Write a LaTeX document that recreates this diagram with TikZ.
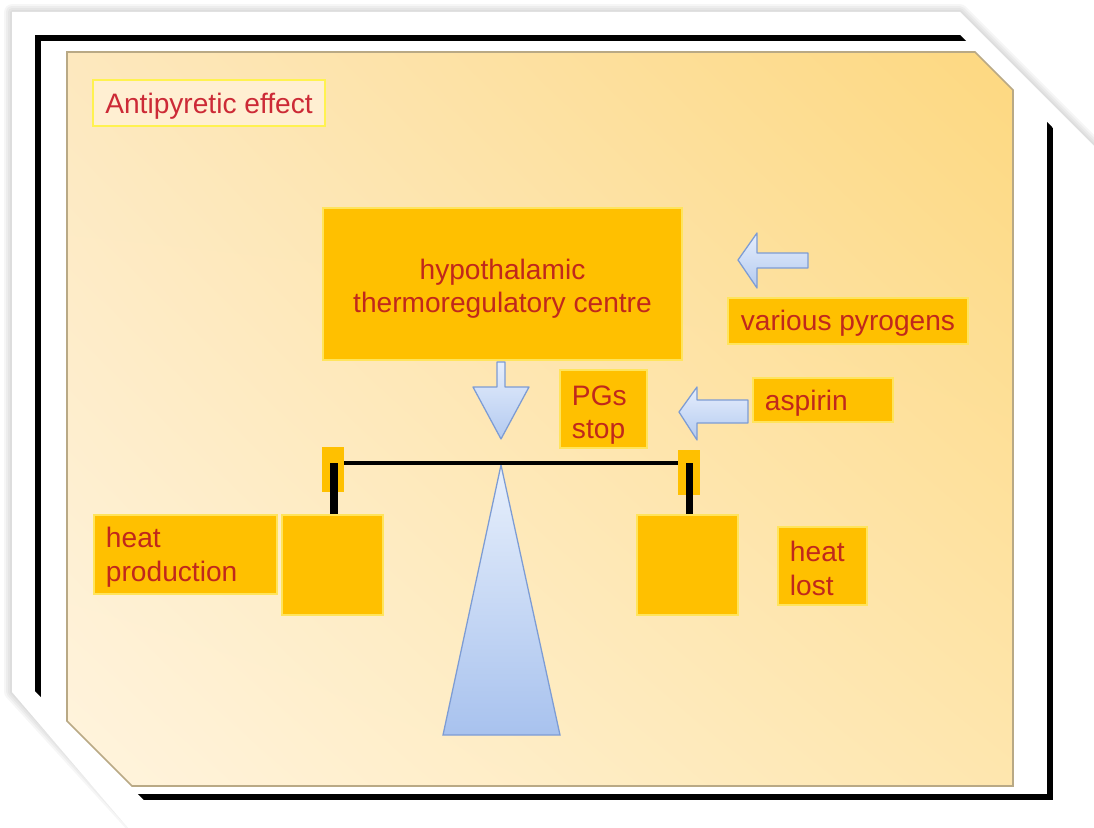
\documentclass[tikz,border=0pt]{standalone}
\usepackage{fontspec}
\setmainfont{Liberation Sans}
\usetikzlibrary{shadings}
\definecolor{boxfill}{HTML}{FFC000}
\definecolor{boxedge}{HTML}{FFE45C}
\definecolor{txtred}{HTML}{C0281C}
\definecolor{titlered}{HTML}{CC2A36}
\definecolor{titleedge}{HTML}{FFF250}
\definecolor{titlefill}{HTML}{FFEFD2}
\definecolor{arrowedge}{HTML}{7D9CD4}
\definecolor{arrowtop}{HTML}{E6EEFC}
\definecolor{arrowbot}{HTML}{B3CAF0}
\definecolor{fulcrumtop}{HTML}{E8F0FC}
\definecolor{fulcrumbot}{HTML}{A8C2EE}
\definecolor{panelUL}{HTML}{FDE8BE}
\definecolor{panelUR}{HTML}{FDD880}
\definecolor{panelLL}{HTML}{FFF4DE}
\definecolor{panelLR}{HTML}{FEE6AE}
\definecolor{paneledge}{HTML}{B9A985}
\begin{document}
\begin{tikzpicture}[x=0.025cm,y=-0.025cm,
  every node/.style={font=\fontsize{20}{23.5}\selectfont},
  % raises the first line's height so the text sits a little lower in its box
  lowered/.style={execute at begin node={\rule{0pt}{#1}}},
  orangebox/.style={draw=boxedge, fill=boxfill, line width=1.4pt, text=txtred, inner sep=0pt},
  leftbox/.style={orangebox, align=left, inner xsep=0.3cm, inner ysep=0pt},
  tabbox/.style={fill=boxfill, inner sep=0pt, minimum width=0.55cm, minimum height=1.125cm},
  blockarrow/.style={draw=arrowedge, line width=0.9pt, top color=arrowtop, bottom color=arrowbot, line join=round},
  bar/.style={black, line width=3.5pt},
  post/.style={black, line width=5pt},
]
\useasboundingbox (0,0) rectangle (1094,828);

% soft shadow round the white card
\foreach \w in {16,12,8,4}
  \draw[black, opacity=0.035, line width=\w*0.7pt, line join=round]
    (12,12) -- (960,12) -- (1094,146) -- (1094,840) -- (147,840) -- (12,692) -- cycle;
% white card with cut corners
\fill[white] (12,12) -- (960,12) -- (1094,146) -- (1094,850) -- (147,850) -- (12,692) -- cycle;

% black frame, cut off at the two diagonal corners
\begin{scope}
  \clip (-10,-10) -- (915,-10) -- (1104,179) -- (1104,850) -- (194,850) -- (-10,646) -- cycle;
  \draw[black, line width=3.6pt] (38,38) rectangle (1050,797);
\end{scope}

% shaded panel
\shade[upper left=panelUL, upper right=panelUR, lower left=panelLL, lower right=panelLR]
  (67,52) -- (975,52) -- (1013,90) -- (1013,786) -- (132,786) -- (67,721) -- cycle;
\draw[paneledge, line width=1.1pt]
  (67,52) -- (975,52) -- (1013,90) -- (1013,786) -- (132,786) -- (67,721) -- cycle;

% title
\node[draw=titleedge, fill=titlefill, line width=2pt, minimum width=5.8cm,
      minimum height=1.15cm, text=titlered, inner sep=0pt, lowered=18.5pt] (title) at (209,103) {Antipyretic effect};

% labelled boxes
\node[orangebox, align=center, minimum width=8.975cm, minimum height=3.8cm] (hypo) at (502.5,284)
  {\rule{0pt}{21.5pt}hypothalamic\\thermoregulatory centre};
\node[orangebox, minimum width=6cm, minimum height=1.15cm, lowered=17.5pt] (pyro) at (848,321) {various pyrogens};
\node[leftbox, text width=2.9cm, minimum height=1.1cm, lowered=18.5pt] (asp) at (823,400) {aspirin};
\node[leftbox, text width=1.575cm, minimum height=1.95cm, lowered=22pt] (pgs) at (603.5,409) {PGs\\stop};
\node[leftbox, text width=3.975cm, minimum height=1.975cm, lowered=18pt,
      font=\fontsize{20}{24.2}\selectfont] (hp) at (185.5,554.5) {heat\\production};
\node[leftbox, text width=1.625cm, minimum height=1.95cm, lowered=18pt,
      font=\fontsize{20}{24.2}\selectfont] (hl) at (822.5,566) {heat\\lost};

% block arrows
\shadedraw[blockarrow] (738,260) -- (757,233) -- (757,253) -- (808,253) -- (808,268)
  -- (757,268) -- (757,288) -- cycle;
\shadedraw[blockarrow] (679,412) -- (697,387) -- (697,400) -- (748,400) -- (748,423)
  -- (697,423) -- (697,440) -- cycle;
\shadedraw[blockarrow] (497,362) -- (505,362) -- (505,387) -- (529,387) -- (501,439)
  -- (473,387) -- (497,387) -- cycle;

% fulcrum
\shadedraw[draw=arrowedge, line width=0.9pt, top color=fulcrumtop, bottom color=fulcrumbot]
  (501,465) -- (560,735) -- (443,735) -- cycle;

% balance beam
\coordinate (pl) at (334,463);
\coordinate (pr) at (689.5,463);
\draw[bar] (pl) -- (pr);
\node[tabbox] (tl) at (333,469.5) {};
\node[tabbox] (tr) at (689,472.5) {};
\node[orangebox, minimum width=2.525cm, minimum height=2.5cm] (wl) at (332.5,565) {};
\node[orangebox, minimum width=2.525cm, minimum height=2.5cm] (wr) at (687.5,565) {};
\draw[post] (pl) -- (pl |- wl.north);
\draw[post] (pr) -- (pr |- wr.north);
\end{tikzpicture}
\end{document}
